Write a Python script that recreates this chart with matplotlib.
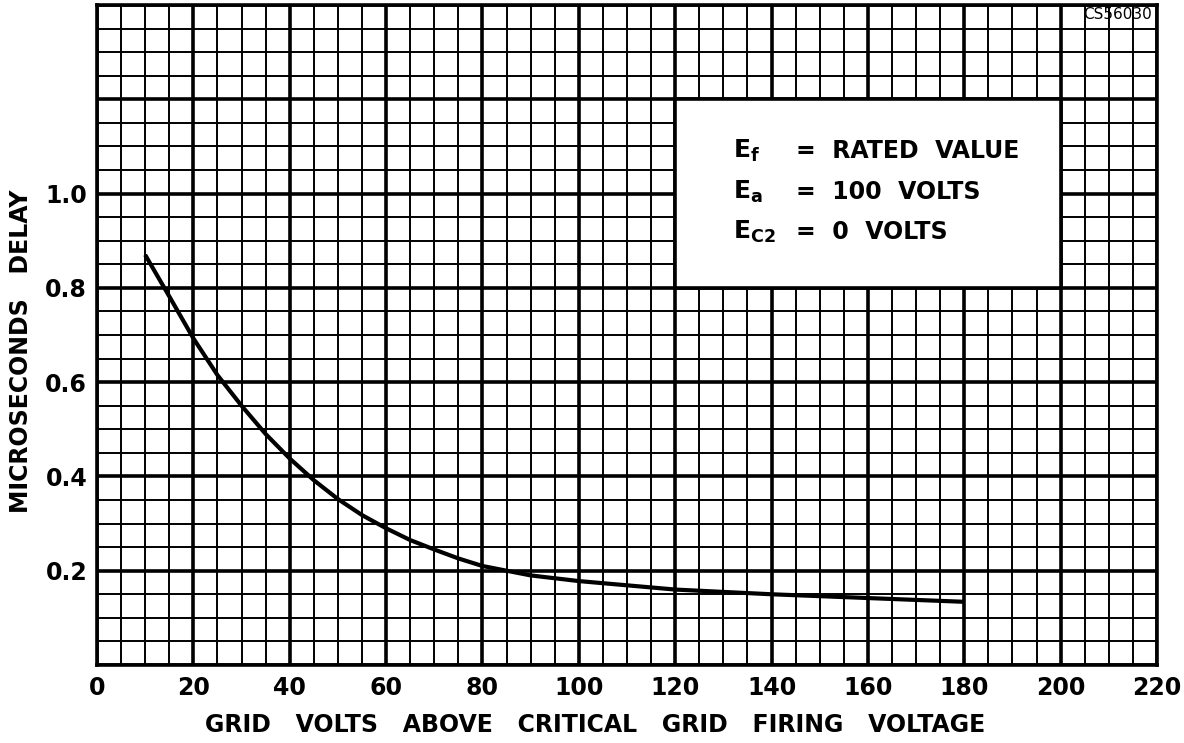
import matplotlib.pyplot as plt
from matplotlib.patches import Rectangle

# delay curve
grid_volts = [10, 15, 20, 25, 30, 35, 40, 45, 50, 55, 60, 65, 70, 75, 80, 90, 100,
              120, 140, 160, 180]
delay_us = [0.87, 0.782, 0.693, 0.615, 0.55, 0.49, 0.438, 0.392, 0.352, 0.318, 0.29,
            0.265, 0.245, 0.226, 0.21, 0.19, 0.178, 0.16, 0.15, 0.142, 0.134]

x_ticks = list(range(0, 221, 20))
y_ticks = [0.2, 0.4, 0.6, 0.8, 1.0]
y_tick_labels = ['0.2', '0.4', '0.6', '0.8', '1.0']

notes = [('E$_{\\mathbf{f}}$', '=  RATED  VALUE'),
         ('E$_{\\mathbf{a}}$', '=  100  VOLTS'),
         ('E$_{\\mathbf{C2}}$', '=  0  VOLTS')]

plt.rcParams['font.family'] = ['DejaVu Sans']
plt.rcParams['mathtext.fontset'] = 'dejavusans'
plt.rcParams['mathtext.default'] = 'bf'

fig = plt.figure(figsize=(11.84, 7.43), dpi=100)
ax = fig.add_axes([0.0819, 0.105, 0.8953, 0.8883])

ax.set_xlim(0, 220)
ax.set_ylim(0, 1.4)

# graph-paper grid
for x in range(0, 221, 5):
    lw = 2.6 if x % 20 == 0 else 1.4
    ax.axvline(x, color='black', lw=lw, zorder=1)
for i in range(0, 29):
    y = i * 0.05
    lw = 2.6 if i % 4 == 0 else 1.4
    ax.axhline(y, color='black', lw=lw, zorder=1)

# white panel for the conditions
ax.add_patch(Rectangle((120, 0.8), 80, 0.4, facecolor='white', edgecolor='black',
                       lw=2.6, zorder=2))

ax.plot(grid_volts, delay_us, color='black', lw=3, zorder=3, solid_capstyle='butt')

for i, (lhs, rhs) in enumerate(notes):
    yy = 1.09 - i * 0.086
    ax.text(132, yy, lhs, fontsize=18, fontweight='bold', va='center', ha='left', zorder=4)
    ax.text(145, yy, rhs, fontsize=17, fontweight='bold', va='center', ha='left', zorder=4)

ax.text(219, 1.396, 'CS56030', fontsize=11, ha='right', va='top', zorder=4)

ax.set_xticks(x_ticks)
ax.set_xticklabels([str(v) for v in x_ticks])
ax.set_yticks(y_ticks)
ax.set_yticklabels(y_tick_labels)
ax.tick_params(axis='x', length=0, labelsize=17, pad=8)
ax.tick_params(axis='y', length=0, labelsize=17, pad=7)
for lab in ax.get_xticklabels() + ax.get_yticklabels():
    lab.set_fontweight('bold')

for s in ax.spines.values():
    s.set_linewidth(2.6)
    s.set_zorder(5)

ax.set_xlabel('GRID   VOLTS   ABOVE   CRITICAL   GRID   FIRING   VOLTAGE', fontsize=17,
              fontweight='bold')
ax.set_ylabel('MICROSECONDS   DELAY', fontsize=17, fontweight='bold')
ax.xaxis.set_label_coords(0.47, -0.072)
ax.yaxis.set_label_coords(-0.06, 0.475)

fig.savefig('out.png', dpi=100)
